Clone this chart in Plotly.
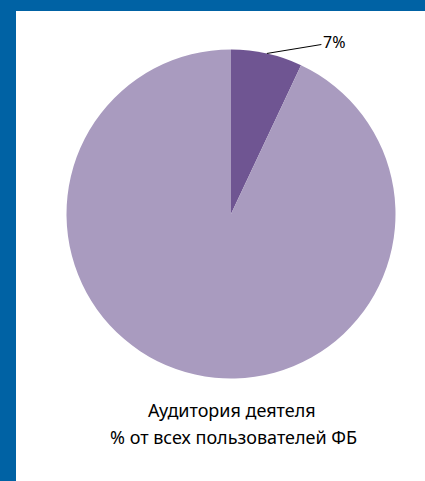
import math
import plotly.graph_objects as go

labels = ["Аудитория деятеля", "Остальные пользователи ФБ"]
values = [7, 93]
colors = ["#6f5592", "#a99bbf"]
legend_lines = ["Аудитория деятеля", "% от всех пользователей ФБ"]

W, H = 425, 481
cx, cy, r = 231, 214, 164.5
FONT = "Noto Sans, Liberation Sans"
BLUE = "#0062a4"

fig = go.Figure()
fig.add_trace(go.Pie(
    labels=labels, values=values, sort=False, direction="clockwise", rotation=0,
    marker=dict(colors=colors, line=dict(width=0)),
    textinfo="none", hoverinfo="label+percent", showlegend=False,
    domain=dict(x=[(cx - r) / W, (cx + r) / W], y=[1 - (cy + r) / H, 1 - (cy - r) / H]),
))

# label for first slice, anchored at the mid-angle of the slice
total = sum(values)
mid = math.radians(values[0] / total * 360 / 2)
px = cx + r * math.sin(mid)
py = cy - r * math.cos(mid)
fig.add_annotation(
    x=px / W, y=1 - py / H, xref="paper", yref="paper",
    text=f"{round(values[0] / total * 100)}%", showarrow=True, arrowhead=0,
    arrowwidth=1, arrowcolor="#000000", ax=67, ay=-11, xanchor="center",
    font=dict(family=FONT, size=16, color="#000000"),
    standoff=0, startstandoff=0,
)

for line, (lx, ly) in zip(legend_lines, [(232, 410), (233, 437)]):
    fig.add_annotation(
        x=lx / W, y=1 - ly / H, xref="paper", yref="paper", showarrow=False,
        text=line, align="center", yanchor="middle",
        font=dict(family=FONT, size=18, color="#000000"),
    )

fig.update_layout(
    width=W, height=H, margin=dict(l=0, r=0, t=0, b=0),
    paper_bgcolor="#ffffff", plot_bgcolor="#ffffff",
    shapes=[
        dict(type="rect", xref="paper", yref="paper", x0=0, x1=16 / W, y0=0, y1=1,
             fillcolor=BLUE, line=dict(width=0), layer="below"),
        dict(type="rect", xref="paper", yref="paper", x0=0, x1=1, y0=1 - 11 / H, y1=1,
             fillcolor=BLUE, line=dict(width=0), layer="below"),
    ],
)
fig.write_html("out.html", config={"displayModeBar": False},
               post_script="document.body.style.margin='0';document.body.style.overflow='hidden';document.body.style.background='#ffffff';")
